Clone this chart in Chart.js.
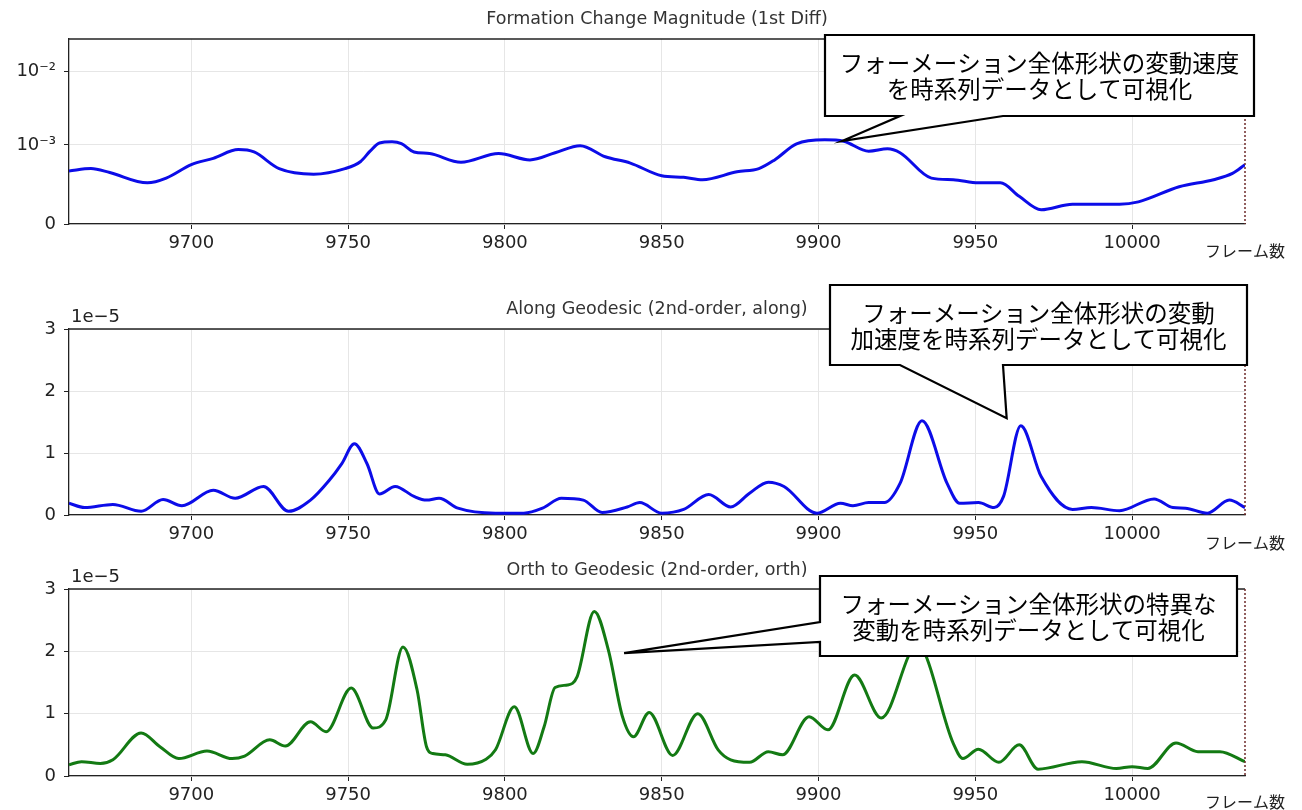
<!DOCTYPE html>
<html>
<head>
<meta charset="utf-8">
<script src="https://cdn.jsdelivr.net/npm/chart.js@4.4.1/dist/chart.umd.min.js"></script>
<style>
  body { margin: 0; background: #fff; }
  #wrap { position: relative; width: 1302px; height: 810px; }
  canvas { position: absolute; left: 0; }
</style>
</head>
<body>
<div id="wrap">
  <canvas id="c1" width="1302" height="265" style="top:0px"></canvas>
  <canvas id="c2" width="1302" height="287" style="top:265px"></canvas>
  <canvas id="c3" width="1302" height="258" style="top:552px"></canvas>
</div>
<script>
// shared x axis
const X_MIN = 9661, X_MAX = 10036;
const X_TICKS = [9700, 9750, 9800, 9850, 9900, 9950, 10000];
const X_LABEL = 'フレーム数';

// panel 1 : magnitude of 1st diff, values in units of 1e-3
const velFrames = [9661, 9668, 9674, 9686, 9692, 9700, 9707, 9715, 9720, 9728, 9739, 9749, 9754, 9757, 9760, 9764, 9767, 9771, 9776, 9786, 9798, 9808, 9816, 9824, 9832, 9840, 9850, 9857, 9863, 9874, 9881, 9886, 9893, 9902, 9908, 9916, 9922, 9926, 9936, 9943, 9951, 9958, 9964, 9971, 9981, 9996, 10002, 10015, 10026, 10032, 10036];
const velValues = [0.67, 0.70, 0.65, 0.52, 0.58, 0.75, 0.83, 0.94, 0.91, 0.70, 0.63, 0.70, 0.79, 0.92, 1.06, 1.10, 1.04, 0.91, 0.89, 0.78, 0.89, 0.81, 0.90, 0.99, 0.85, 0.77, 0.61, 0.59, 0.56, 0.66, 0.70, 0.81, 1.03, 1.17, 1.12, 0.92, 0.95, 0.90, 0.58, 0.56, 0.52, 0.52, 0.35, 0.18, 0.25, 0.25, 0.28, 0.47, 0.56, 0.64, 0.75];
const VEL_UNIT = 1e-3;
const VEL_TICKS = [0, 1e-3, 1e-2];
const VEL_TICK_LABELS = ['0', '10⁻³', '10⁻²'];

// panel 2 : along geodesic, units of 1e-5
const alongFrames = [9661, 9666, 9675, 9684, 9691, 9697, 9707, 9714, 9723, 9731, 9738, 9744, 9748, 9752, 9756, 9760, 9765, 9771, 9775, 9779, 9785, 9797, 9806, 9812, 9818, 9825, 9831, 9839, 9843, 9850, 9857, 9865, 9872, 9878, 9884, 9889, 9899.5, 9907, 9911, 9916, 9921, 9926, 9933, 9941, 9945, 9951, 9956, 9959, 9964.5, 9971, 9981, 9987, 9996, 10007, 10013, 10017, 10024, 10031, 10036];
const alongValues = [0.19, 0.12, 0.17, 0.06, 0.25, 0.15, 0.40, 0.27, 0.46, 0.06, 0.24, 0.56, 0.83, 1.15, 0.83, 0.34, 0.46, 0.30, 0.24, 0.27, 0.11, 0.03, 0.03, 0.11, 0.27, 0.24, 0.04, 0.13, 0.20, 0.03, 0.09, 0.33, 0.13, 0.35, 0.53, 0.46, 0.03, 0.19, 0.15, 0.20, 0.20, 0.51, 1.52, 0.51, 0.19, 0.20, 0.12, 0.30, 1.44, 0.62, 0.09, 0.12, 0.07, 0.26, 0.12, 0.11, 0.03, 0.24, 0.12];

// panel 3 : orthogonal to geodesic, units of 1e-5
const orthFrames = [9661, 9665, 9671, 9675, 9684, 9690, 9696, 9705, 9713, 9717, 9725, 9730, 9738, 9743, 9751, 9758, 9762, 9767.5, 9772, 9775, 9777, 9781, 9788, 9794, 9797, 9803, 9809, 9812.5, 9816, 9820, 9823, 9828.5, 9833, 9837.5, 9841, 9846, 9853.5, 9861.5, 9868, 9872, 9878, 9884, 9888.5, 9897, 9903, 9911.5, 9920, 9931.5, 9943, 9946, 9951, 9957.5, 9964, 9970, 9984, 9995, 10000, 10005, 10014, 10021, 10028, 10036];
const orthValues = [0.18, 0.23, 0.20, 0.26, 0.69, 0.47, 0.28, 0.40, 0.28, 0.32, 0.58, 0.48, 0.87, 0.71, 1.41, 0.77, 0.90, 2.07, 1.38, 0.47, 0.36, 0.34, 0.19, 0.27, 0.42, 1.11, 0.36, 0.79, 1.42, 1.46, 1.59, 2.64, 2.02, 0.95, 0.63, 1.02, 0.33, 1.00, 0.42, 0.26, 0.22, 0.39, 0.34, 0.95, 0.74, 1.62, 0.93, 2.10, 0.52, 0.28, 0.43, 0.22, 0.50, 0.11, 0.23, 0.12, 0.15, 0.12, 0.53, 0.39, 0.39, 0.23];
const E5_TICKS = [0, 1, 2, 3];

const titles = [
  'Formation Change Magnitude (1st Diff)',
  'Along Geodesic (2nd-order, along)',
  'Orth to Geodesic (2nd-order, orth)'
];
const calloutTexts = [
  ['フォーメーション全体形状の変動速度', 'を時系列データとして可視化'],
  ['フォーメーション全体形状の変動', '加速度を時系列データとして可視化'],
  ['フォーメーション全体形状の特異な', '変動を時系列データとして可視化']
];

const GRID = '#e6e6e6';
const INK = '#222';
Chart.defaults.font.family = 'DejaVu Sans';
Chart.defaults.font.size = 18;
Chart.defaults.color = INK;

// symlog axis (linear below 1e-3, log above) like matplotlib
const LIN_T = 1e-3, LIN_SCALE = 1.082;
const symT = v => {
  const a = Math.abs(v);
  const t = a <= LIN_T ? a / LIN_T * LIN_SCALE : LIN_SCALE + Math.log10(a / LIN_T);
  return Math.sign(v) * t;
};
const symInv = t => {
  const a = Math.abs(t);
  const v = a <= LIN_SCALE ? a / LIN_SCALE * LIN_T : LIN_T * Math.pow(10, a - LIN_SCALE);
  return Math.sign(t) * v;
};
class SymlogScale extends Chart.LinearScale {
  buildTicks() {
    return [{ value: this.min }, { value: this.max }];
  }
  configure() {
    super.configure();
    this._t0 = symT(this.min);
    this._t1 = symT(this.max);
  }
  getPixelForValue(v) {
    return this.getPixelForDecimal((symT(v) - this._t0) / (this._t1 - this._t0));
  }
  getValueForPixel(p) {
    return symInv(this._t0 + this.getDecimalForPixel(p) * (this._t1 - this._t0));
  }
}
SymlogScale.id = 'symlog';
SymlogScale.defaults = {};
Chart.register(SymlogScale);

function drawCallout(chart, c, lines) {
  const ctx = chart.ctx;
  const tx = chart.scales.x.getPixelForValue(c.tip[0]);
  const ty = chart.scales.y.getPixelForValue(c.tip[1]);
  const { x, y, w, h } = c.box;
  const r = x + w, b = y + h;
  ctx.beginPath();
  ctx.moveTo(x, y);
  ctx.lineTo(r, y);
  ctx.lineTo(r, b);
  if (c.side === 'bottom') {
    ctx.lineTo(c.base[1], b);
    ctx.lineTo(tx, ty);
    ctx.lineTo(c.base[0], b);
    ctx.lineTo(x, b);
  } else {
    ctx.lineTo(x, b);
    ctx.lineTo(x, c.base[1]);
    ctx.lineTo(tx, ty);
    ctx.lineTo(x, c.base[0]);
  }
  ctx.closePath();
  ctx.fillStyle = '#fff';
  ctx.fill();
  ctx.lineWidth = 2.2;
  ctx.lineJoin = 'miter';
  ctx.strokeStyle = '#000';
  ctx.stroke();
  ctx.fillStyle = '#000';
  ctx.font = '23.5px "Noto Sans CJK JP"';
  ctx.textAlign = 'center';
  ctx.textBaseline = 'middle';
  const cx = x + w / 2, cy = y + h / 2 + 1;
  ctx.fillText(lines[0], cx, cy - 13);
  ctx.fillText(lines[1], cx, cy + 13);
}

const decor = {
  id: 'decor',
  afterDraw(chart, args, o) {
    const { ctx, chartArea: a } = chart;
    ctx.save();
    ctx.strokeStyle = INK;
    ctx.lineWidth = 1.3;
    ctx.beginPath();
    ctx.moveTo(a.left, a.top);
    ctx.lineTo(a.right, a.top);
    ctx.stroke();
    ctx.setLineDash([2, 2]);
    ctx.strokeStyle = '#6e2a2a';
    ctx.lineWidth = 1.5;
    ctx.beginPath();
    ctx.moveTo(a.right, a.top);
    ctx.lineTo(a.right, a.bottom);
    ctx.stroke();
    ctx.setLineDash([]);

    ctx.fillStyle = '#333';
    ctx.font = '17.5px "DejaVu Sans"';
    ctx.textAlign = 'center';
    ctx.textBaseline = 'middle';
    ctx.fillText(o.title, (a.left + a.right) / 2, a.top - o.titleGap);

    ctx.fillStyle = INK;
    ctx.font = '16px "Noto Sans CJK JP"';
    ctx.textAlign = 'left';
    ctx.fillText(X_LABEL, a.right - 40, a.bottom + o.xlabelGap);

    if (o.offsetText) {
      ctx.font = '18px "DejaVu Sans"';
      ctx.textBaseline = 'alphabetic';
      ctx.fillText(o.offsetText, a.left + 2, a.top - 7);
    }
    drawCallout(chart, o.callout, o.lines);
    ctx.restore();
  }
};

function makePanel(id, frames, values, unit, color, yScale, p) {
  return new Chart(document.getElementById(id), {
    type: 'line',
    data: {
      datasets: [{
        data: frames.map((f, i) => ({ x: f, y: values[i] * unit })),
        borderColor: color,
        borderWidth: 3,
        pointRadius: 0,
        cubicInterpolationMode: 'monotone',
        fill: false
      }]
    },
    options: {
      responsive: false,
      animation: false,
      devicePixelRatio: 1,
      layout: { padding: { top: p.padTop, right: 57, left: 0, bottom: 0 }, autoPadding: false },
      plugins: {
        legend: { display: false },
        tooltip: { enabled: false },
        decor: p
      },
      scales: {
        x: {
          type: 'linear',
          min: X_MIN,
          max: X_MAX,
          afterBuildTicks: ax => { ax.ticks = X_TICKS.map(v => ({ value: v })); },
          afterFit: ax => { ax.height = p.xAxisH; },
          ticks: { callback: v => String(v), padding: 4, maxRotation: 0, autoSkip: false },
          grid: { color: GRID, tickColor: INK, tickLength: 5 },
          border: { color: INK, width: 1.3 }
        },
        y: Object.assign({
          afterFit: ax => { ax.width = 69; },
          grid: { color: GRID, tickColor: INK, tickLength: 5 },
          border: { color: INK, width: 1.3 }
        }, yScale)
      }
    },
    plugins: [decor]
  });
}

makePanel('c1', velFrames, velValues, VEL_UNIT, '#0c0ce8', {
  type: 'symlog',
  min: 0,
  max: 0.028,
  afterBuildTicks: ax => { ax.ticks = VEL_TICKS.map(v => ({ value: v })); },
  ticks: { callback: v => VEL_TICK_LABELS[VEL_TICKS.indexOf(v)], padding: 8 }
}, {
  padTop: 39, xAxisH: 41, title: titles[0], titleGap: 20, xlabelGap: 27, lines: calloutTexts[0],
  callout: { box: { x: 825, y: 35, w: 429, h: 81 }, side: 'bottom', base: [900, 1003], tip: [9907.5, 1.13e-3] }
});

makePanel('c2', alongFrames, alongValues, 1, '#0c0ce8', {
  type: 'linear',
  min: 0,
  max: 3,
  afterBuildTicks: ax => { ax.ticks = E5_TICKS.map(v => ({ value: v })); },
  ticks: { callback: v => String(v), padding: 8 }
}, {
  padTop: 64, xAxisH: 37, title: titles[1], titleGap: 20, xlabelGap: 28, offsetText: '1e\u22125', lines: calloutTexts[1],
  callout: { box: { x: 830, y: 20, w: 417, h: 80 }, side: 'bottom', base: [900, 1003], tip: [9960, 1.56] }
});

makePanel('c3', orthFrames, orthValues, 1, '#137a13', {
  type: 'linear',
  min: 0,
  max: 3,
  afterBuildTicks: ax => { ax.ticks = E5_TICKS.map(v => ({ value: v })); },
  ticks: { callback: v => String(v), padding: 8 }
}, {
  padTop: 37, xAxisH: 34, title: titles[2], titleGap: 19, xlabelGap: 26, offsetText: '1e\u22125', lines: calloutTexts[2],
  callout: { box: { x: 820, y: 24, w: 417, h: 80 }, side: 'left', base: [70, 90], tip: [9838, 1.97] }
});
</script>
</body>
</html>
